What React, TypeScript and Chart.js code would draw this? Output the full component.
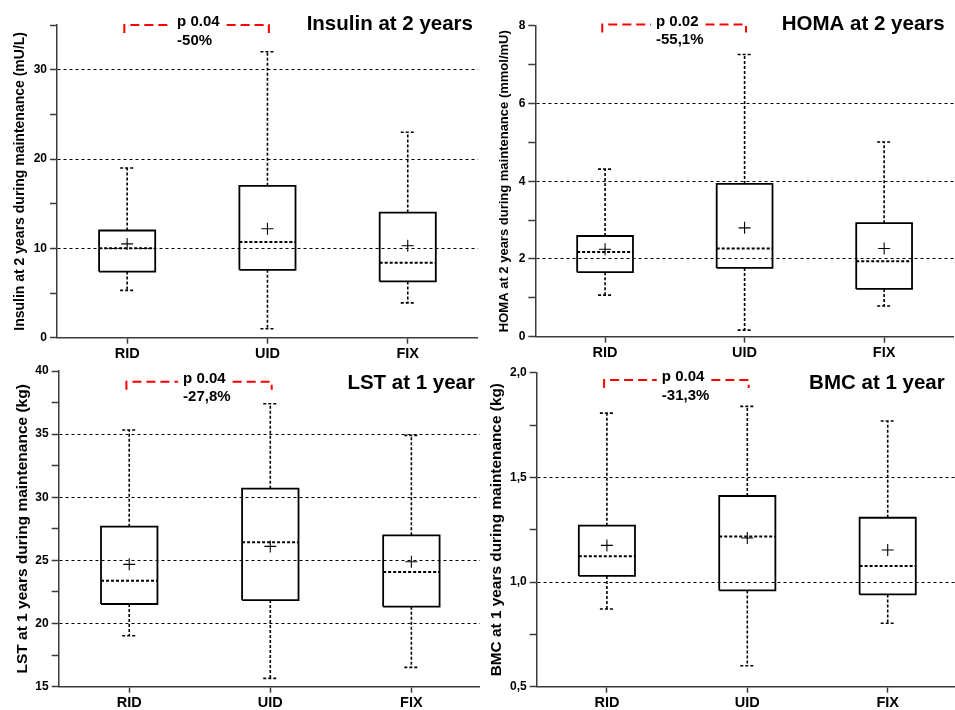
import React, { useEffect, useRef } from "react";
import { Chart, registerables } from "chart.js";

Chart.register(...registerables);
Chart.defaults.font.family = "'Liberation Sans', Arial, sans-serif";
Chart.defaults.color = "#000";

const CATEGORIES = ["RID", "UID", "FIX"];

// Insulin at 2 years (mU/L)
const insulinMin = [5.3, 1.0, 3.9];
const insulinQ1 = [7.4, 7.6, 6.3];
const insulinMedian = [10.0, 10.7, 8.4];
const insulinQ3 = [12.0, 17.0, 14.0];
const insulinMax = [19.0, 32.0, 23.0];
const insulinMean = [10.5, 12.2, 10.3];

// HOMA at 2 years (mmol/mU)
const homaMin = [1.07, 0.17, 0.79];
const homaQ1 = [1.66, 1.77, 1.23];
const homaMedian = [2.18, 2.27, 1.94];
const homaQ3 = [2.59, 3.93, 2.92];
const homaMax = [4.31, 7.26, 5.01];
const homaMean = [2.25, 2.8, 2.27];

// LST at 1 year (kg)
const lstMin = [19.04, 15.66, 16.53];
const lstQ1 = [21.55, 21.86, 21.34];
const lstMedian = [23.39, 26.43, 24.08];
const lstQ3 = [27.67, 30.68, 26.99];
const lstMax = [35.33, 37.41, 34.9];
const lstMean = [24.69, 26.11, 24.9];

// BMC at 1 year (kg)
const bmcMin = [0.871, 0.6, 0.803];
const bmcQ1 = [1.029, 0.96, 0.941];
const bmcMedian = [1.123, 1.217, 1.076];
const bmcQ3 = [1.269, 1.411, 1.307];
const bmcMax = [1.807, 1.839, 1.769];
const bmcMean = [1.175, 1.21, 1.153];

// y-axis ranges: [min, max, minor step, major step]
const insulinAxis = [0, 35, 5, 10];
const homaAxis = [0, 8, 1, 2];
const lstAxis = [15, 40, 2.5, 5];
const bmcAxis = [0.5, 2.0, 0.25, 0.5];

// comparison annotations (RID vs UID)
const insulinNote = ["p 0.04", "-50%"];
const homaNote = ["p 0.02", "-55,1%"];
const lstNote = ["p 0.04", "-27,8%"];
const bmcNote = ["p 0.04", "-31,3%"];
const insulinBracketY = 35;
const homaBracketY = 8.03;
const lstBracketY = 39.15;
const bmcBracketY = 1.965;

const FONT = "'Liberation Sans', Arial, sans-serif";
const AXIS_COLOR = "#3a3a3a";

type PanelCfg = {
  left: number; top: number; wrapW: number; wrapH: number;
  canvasW: number; canvasH: number;
  padTop: number; padRight: number; yWidth: number; xHeight: number;
  title: string; titleX: number; titleY: number;
  yTitle: string; yTitleSize: number; yTitlePad: number;
  axis: number[]; comma: boolean;
  min: number[]; q1: number[]; median: number[]; q3: number[]; max: number[]; mean: number[];
  note: string[]; bracketY: number; textAt: number;
};

const panels: PanelCfg[] = [
  {
    left: 0, top: 0, wrapW: 480, wrapH: 368, canvasW: 485, canvasH: 368,
    padTop: 25, padRight: 1, yWidth: 57, xHeight: 30.3,
    title: "Insulin at 2 years", titleX: 473, titleY: 24,
    yTitle: "Insulin at 2 years during maintenance (mU/L)", yTitleSize: 14, yTitlePad: 11.9,
    axis: insulinAxis, comma: false,
    min: insulinMin, q1: insulinQ1, median: insulinMedian, q3: insulinQ3, max: insulinMax, mean: insulinMean,
    note: insulinNote, bracketY: insulinBracketY, textAt: 0.356,
  },
  {
    left: 478, top: 0, wrapW: 477, wrapH: 368, canvasW: 483, canvasH: 368,
    padTop: 25.7, padRight: 0.5, yWidth: 57.3, xHeight: 31.3,
    title: "HOMA at 2 years", titleX: 466.7, titleY: 24,
    yTitle: "HOMA at 2 years during maintenance (mmol/mU)", yTitleSize: 13, yTitlePad: 18.2,
    axis: homaAxis, comma: false,
    min: homaMin, q1: homaQ1, median: homaMedian, q3: homaQ3, max: homaMax, mean: homaMean,
    note: homaNote, bracketY: homaBracketY, textAt: 0.365,
  },
  {
    left: 0, top: 355, wrapW: 480, wrapH: 355, canvasW: 489, canvasH: 355,
    padTop: 16, padRight: 0.7, yWidth: 58.7, xHeight: 23.3,
    title: "LST at 1 year", titleX: 475, titleY: 28.3,
    yTitle: "LST at 1 years during maintenance (kg)", yTitleSize: 15.5, yTitlePad: 13.5,
    axis: lstAxis, comma: false,
    min: lstMin, q1: lstQ1, median: lstMedian, q3: lstQ3, max: lstMax, mean: lstMean,
    note: lstNote, bracketY: lstBracketY, textAt: 0.382,
  },
  {
    left: 478, top: 355, wrapW: 477, wrapH: 355, canvasW: 487, canvasH: 355,
    padTop: 17.7, padRight: 0.7, yWidth: 58.7, xHeight: 23.3,
    title: "BMC at 1 year", titleX: 466.7, titleY: 28.3,
    yTitle: "BMC at 1 years during maintenance (kg)", yTitleSize: 15.4, yTitlePad: 10,
    axis: bmcAxis, comma: true,
    min: bmcMin, q1: bmcQ1, median: bmcMedian, q3: bmcQ3, max: bmcMax, mean: bmcMean,
    note: bmcNote, bracketY: bmcBracketY, textAt: 0.391,
  },
];

const BOX_HALF = 0.2;
const CAP_HALF = 0.05;
const GAP = { x: 0, y: null as any };

function buildDatasets(p: PanelCfg) {
  const box: any[] = [];
  const whiskers: any[] = [];
  const caps: any[] = [];
  const medians: any[] = [];
  const means: any[] = [];
  CATEGORIES.forEach((_, i) => {
    const l = i - BOX_HALF, r = i + BOX_HALF;
    box.push({ x: l, y: p.q1[i] }, { x: l, y: p.q3[i] }, { x: r, y: p.q3[i] }, { x: r, y: p.q1[i] }, { x: l, y: p.q1[i] }, GAP);
    whiskers.push({ x: i, y: p.q3[i] }, { x: i, y: p.max[i] }, GAP, { x: i, y: p.q1[i] }, { x: i, y: p.min[i] }, GAP);
    caps.push({ x: i - CAP_HALF, y: p.max[i] }, { x: i + CAP_HALF, y: p.max[i] }, GAP,
      { x: i - CAP_HALF, y: p.min[i] }, { x: i + CAP_HALF, y: p.min[i] }, GAP);
    medians.push({ x: l, y: p.median[i] }, { x: r, y: p.median[i] }, GAP);
    means.push({ x: i, y: p.mean[i] });
  });
  const line = (data: any[], width: number, dash: number[]) => ({
    data, showLine: true, borderColor: "#000", borderWidth: width, borderDash: dash,
    pointRadius: 0, pointHoverRadius: 0, tension: 0, spanGaps: false, fill: false,
    borderJoinStyle: "miter", borderCapStyle: "butt", clip: false,
  });
  return [
    {
      data: means, showLine: false, pointStyle: "cross", pointRadius: 6, pointHoverRadius: 6,
      borderColor: "#000", borderWidth: 1.1, backgroundColor: "#000",
    },
    line(box, 1.8, []),
    line(medians, 2, [3, 2]),
    line(whiskers, 1.6, [3, 2]),
    line(caps, 1.6, [3, 2]),
  ];
}

function textPlugin(p: PanelCfg) {
  return {
    id: "panelText",
    afterDraw(chart: any) {
      const { ctx } = chart;
      const xs = chart.scales.x;
      const ys = chart.scales.y;
      ctx.save();
      ctx.fillStyle = "#000";
      ctx.font = `bold 20.5px ${FONT}`;
      ctx.textAlign = "right";
      ctx.textBaseline = "middle";
      ctx.fillText(p.title, p.titleX, p.titleY);

      const x0 = xs.getPixelForValue(-0.02);
      const x1 = xs.getPixelForValue(1.01);
      const y = ys.getPixelForValue(p.bracketY);
      const tx = xs.getPixelForValue(p.textAt);
      ctx.font = `bold 15px ${FONT}`;
      const w = ctx.measureText(p.note[0]).width;
      ctx.strokeStyle = "#ff0000";
      ctx.lineWidth = 2;
      ctx.setLineDash([9, 5]);
      ctx.beginPath();
      ctx.moveTo(x0, y + 8);
      ctx.lineTo(x0, y);
      ctx.lineTo(tx - 5, y);
      ctx.stroke();
      ctx.beginPath();
      ctx.moveTo(tx + w + 7, y);
      ctx.lineTo(x1, y);
      ctx.lineTo(x1, y + 8);
      ctx.stroke();
      ctx.setLineDash([]);
      ctx.textAlign = "left";
      ctx.fillText(p.note[0], tx, y - 3);
      ctx.fillText(p.note[1], tx, y + 15.5);
      ctx.restore();
    },
  };
}

function Panel({ p }: { p: PanelCfg }) {
  const ref = useRef<HTMLCanvasElement | null>(null);
  useEffect(() => {
    if (!ref.current) return;
    const [ymin, ymax, minor, major] = p.axis;
    const isMajor = (v: number) => Math.abs(v / major - Math.round(v / major)) < 1e-6;
    const chart = new Chart(ref.current, {
      type: "scatter",
      data: { datasets: buildDatasets(p) as any },
      plugins: [textPlugin(p)],
      options: {
        responsive: false,
        animation: false,
        events: [],
        layout: { padding: { top: p.padTop, right: p.padRight, left: 0, bottom: 0 } },
        plugins: { legend: { display: false }, tooltip: { enabled: false }, title: { display: false } },
        scales: {
          x: {
            type: "linear",
            min: -0.5,
            max: 2.5,
            afterBuildTicks: (s: any) => {
              s.ticks = CATEGORIES.map((_, i) => ({ value: i }));
            },
            afterFit: (s: any) => {
              s.height = p.xHeight;
            },
            ticks: {
              autoSkip: false,
              maxRotation: 0,
              padding: 2,
              color: "#000",
              font: { size: 14.5, weight: "bold" },
              callback: (v: any) => CATEGORIES[Math.round(Number(v))] ?? "",
            },
            grid: {
              display: true,
              drawOnChartArea: false,
              drawTicks: true,
              tickLength: 6,
              tickColor: AXIS_COLOR,
              tickWidth: 1.5,
            },
            border: { display: true, color: AXIS_COLOR, width: 1.5 },
          },
          y: {
            type: "linear",
            min: ymin,
            max: ymax,
            afterFit: (s: any) => {
              s.width = p.yWidth;
            },
            ticks: {
              stepSize: minor,
              autoSkip: false,
              padding: 3,
              color: "#000",
              font: { size: 12, weight: "bold" },
              callback: (v: any) => {
                const n = Number(v);
                if (!isMajor(n)) return "";
                return p.comma ? n.toFixed(1).replace(".", ",") : String(Math.round(n));
              },
            },
            grid: {
              display: true,
              drawOnChartArea: true,
              drawTicks: true,
              tickLength: 7,
              tickColor: AXIS_COLOR,
              tickWidth: 1.5,
              lineWidth: 1,
              color: (ctx: any) => {
                const v = ctx.tick ? ctx.tick.value : NaN;
                if (!isMajor(v)) return "rgba(0,0,0,0)";
                if (Math.abs(v - ymin) < 1e-6 || Math.abs(v - ymax) < 1e-6) return "rgba(0,0,0,0)";
                return "#000";
              },
            },
            border: { display: true, color: AXIS_COLOR, width: 1.5, dash: [3, 3] },
            title: {
              display: true,
              text: p.yTitle,
              color: "#000",
              font: { size: p.yTitleSize, weight: "bold" },
              padding: { top: p.yTitlePad, bottom: 0 },
            },
          },
        },
      } as any,
    });
    return () => chart.destroy();
  }, [p]);
  return (
    <div
      style={{
        position: "absolute",
        left: p.left,
        top: p.top,
        width: p.wrapW,
        height: p.wrapH,
        overflow: "hidden",
      }}
    >
      <canvas
        ref={ref}
        width={p.canvasW}
        height={p.canvasH}
        style={{ display: "block", width: p.canvasW, height: p.canvasH }}
      />
    </div>
  );
}

export default function App() {
  return (
    <div
      style={{
        position: "absolute",
        left: 0,
        top: 0,
        width: 955,
        height: 710,
        overflow: "hidden",
        background: "#fff",
      }}
    >
      {panels.map((p, i) => (
        <Panel key={i} p={p} />
      ))}
    </div>
  );
}
